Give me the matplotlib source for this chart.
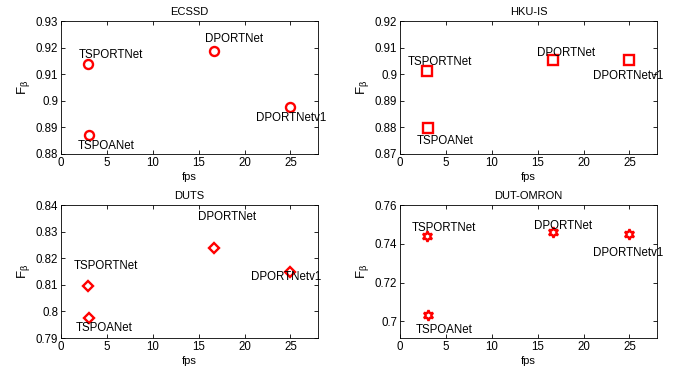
import numpy as np
import matplotlib
matplotlib.use('Agg')
import matplotlib.pyplot as plt
from matplotlib.ticker import FormatStrFormatter, MultipleLocator

plt.rcParams['font.family'] = ['Liberation Sans', 'DejaVu Sans']
plt.rcParams['font.size'] = 8
plt.rcParams['mathtext.fontset'] = 'custom'
plt.rcParams['mathtext.rm'] = 'Liberation Sans'
plt.rcParams['mathtext.it'] = 'Liberation Sans'

datasets = ['ECSSD', 'HKU-IS', 'DUTS', 'DUT-OMRON']
methods = ['TSPORTNet', 'TSPOANet', 'DPORTNet', 'DPORTNetv1']
fps = [2.9, 3.1, 16.7, 25.0]

fbeta = {
    'ECSSD':     [0.9137, 0.8873, 0.9188, 0.8975],
    'HKU-IS':    [0.9012, 0.8797, 0.9053, 0.9053],
    'DUTS':      [0.8095, 0.7974, 0.8239, 0.8150],
    'DUT-OMRON': [0.7438, 0.7031, 0.7459, 0.7453],
}

# label anchor points (data coords), as placed with text() in the original
label_x = {
    'ECSSD':     [5.4, 4.9, 18.9, 25.1],
    'HKU-IS':    [4.4, 4.9, 18.1, 24.8],
    'DUTS':      [4.85, 4.75, 18.1, 24.5],
    'DUT-OMRON': [4.75, 4.8, 17.8, 24.9],
}
label_y = {
    'ECSSD':     [0.9171, 0.8830, 0.9231, 0.8934],
    'HKU-IS':    [0.9045, 0.8750, 0.9081, 0.8993],
    'DUTS':      [0.8169, 0.7936, 0.8354, 0.8128],
    'DUT-OMRON': [0.7483, 0.6955, 0.7494, 0.7350],
}

ylims = {
    'ECSSD': (0.88, 0.93),
    'HKU-IS': (0.87, 0.92),
    'DUTS': (0.79, 0.84),
    'DUT-OMRON': (0.6914, 0.76),
}
ysteps = {'ECSSD': 0.01, 'HKU-IS': 0.01, 'DUTS': 0.01, 'DUT-OMRON': 0.02}
markers = {'ECSSD': 'o', 'HKU-IS': 's', 'DUTS': 'D', 'DUT-OMRON': (6, 1, 0)}
msizes = {'ECSSD': 6.5, 'HKU-IS': 6.5, 'DUTS': 5.5, 'DUT-OMRON': 7.5}

fig = plt.figure(figsize=(6.77, 3.68), dpi=100)
pos = [
    [61/677, 1-154/368, 257/677, 133/368],
    [400/677, 1-154/368, 257/677, 133/368],
    [61/677, 1-338/368, 257/677, 133/368],
    [400/677, 1-338/368, 257/677, 133/368],
]

for name, p in zip(datasets, pos):
    ax = fig.add_axes(p)
    ax.plot(fps, fbeta[name], linestyle='none', marker=markers[name],
            markersize=msizes[name], markerfacecolor='none',
            markeredgecolor='red', markeredgewidth=1.7)
    for m, tx, ty in zip(methods, label_x[name], label_y[name]):
        ax.text(tx, ty, m, ha='center', va='center', fontsize=8.3)
    ax.set_xlim(0, 28)
    ax.set_xticks([0, 5, 10, 15, 20, 25])
    ax.yaxis.set_major_locator(MultipleLocator(ysteps[name]))
    ax.yaxis.set_major_formatter(FormatStrFormatter('%g'))
    ax.set_ylim(*ylims[name])
    ax.tick_params(direction='in', top=True, right=True, length=3,
                   width=0.6, labelsize=8.3, pad=2)
    for s in ax.spines.values():
        s.set_linewidth(0.6)
    ax.set_title(name, fontsize=8, pad=4)
    ax.set_xlabel('fps', fontsize=8, labelpad=2)
    ax.set_ylabel(r'F$_{\beta}$', fontsize=9.5, labelpad=3)

fig.savefig('out.png', dpi=100)
